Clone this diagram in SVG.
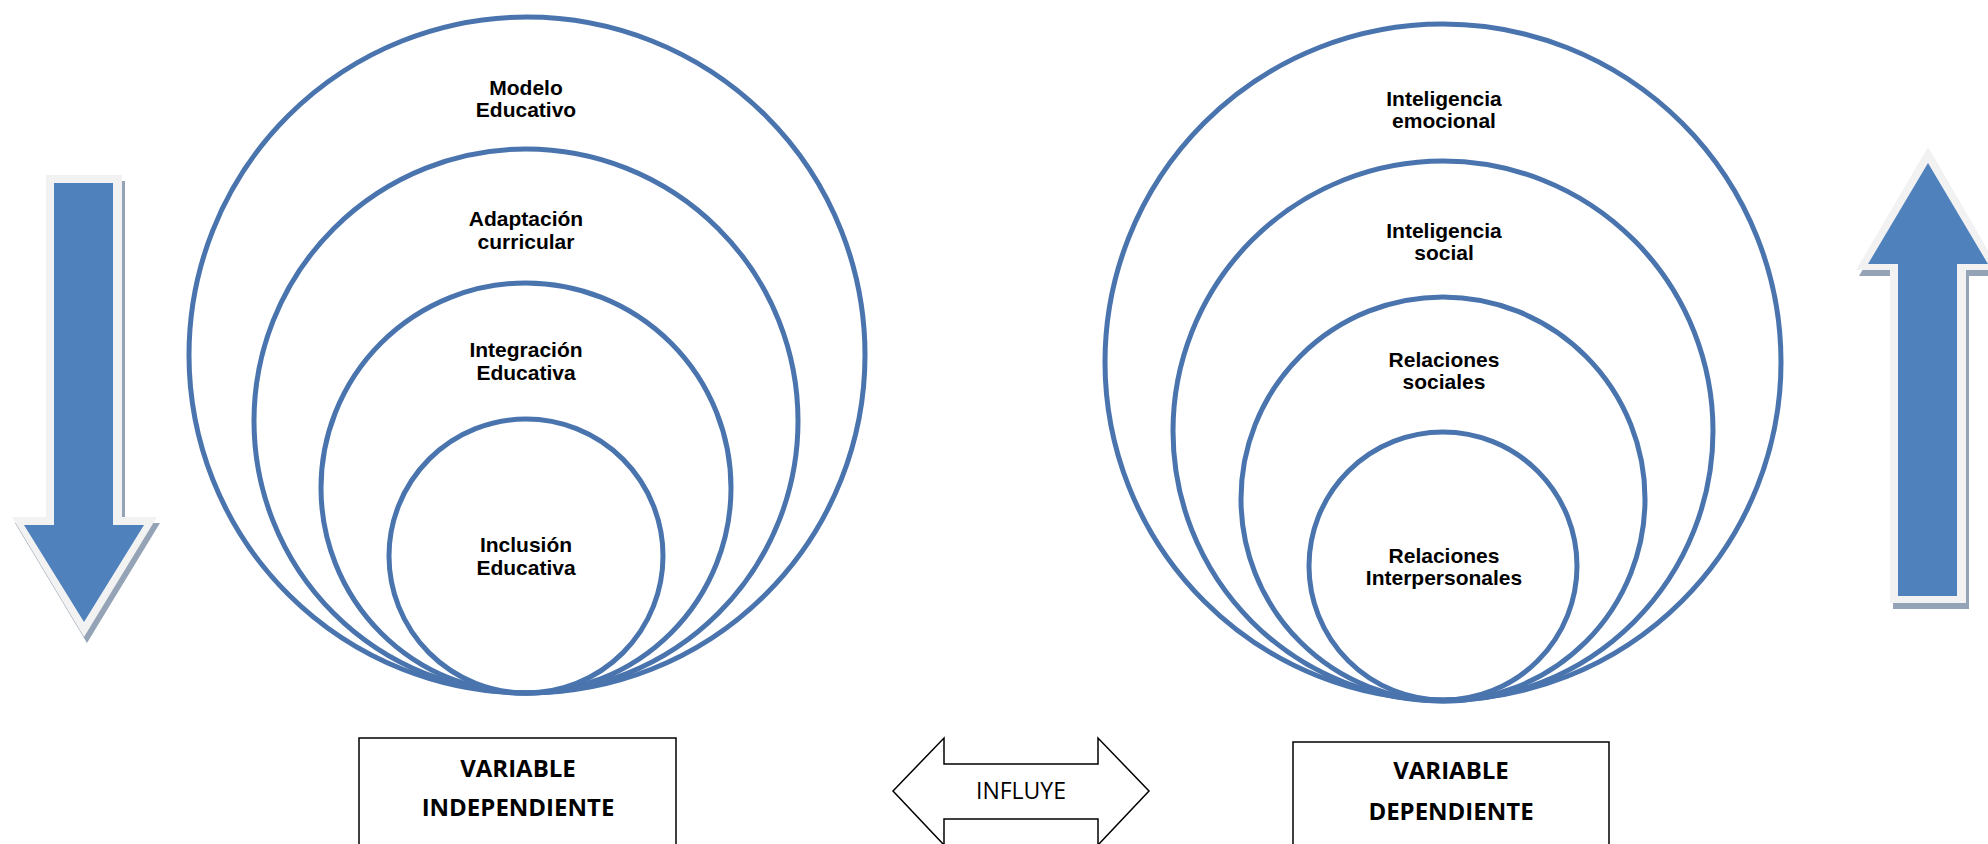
<svg xmlns="http://www.w3.org/2000/svg" width="1988" height="844" viewBox="0 0 1988 844">
<style>
.ring{fill:none;stroke:#4a74ad;stroke-width:5}
.lbl{font-family:"Liberation Sans",Arial,sans-serif;font-weight:bold;font-size:21px;fill:#000;text-anchor:middle}
.box{fill:#fff;stroke:#000;stroke-width:1.5}
.var{font-family:"Open Sans","Liberation Sans",sans-serif;font-weight:bold;font-size:24px;fill:#000;text-anchor:middle}
.inf{font-family:"Open Sans","Liberation Sans",sans-serif;font-size:23px;fill:#000;text-anchor:middle}
.shadow{fill:#95a3b6}
.rim{fill:#f2f2f2}
.blue{fill:#4f81bd}
</style>
<rect width="1988" height="844" fill="#fff"/>
<g id="arrow-down">
<polygon class="shadow" points="49,181 125,181 125,523 160,523 87,643 15,523 49,523"/>
<polygon class="rim" points="46,175 122,175 122,517 157,517 84,637 12,517 46,517"/>
<polygon class="blue" points="54,183 113,183 113,525 144,525 84,622 24,525 54,525"/>
</g>
<g id="arrow-up">
<polygon class="shadow" points="1893,609 1969,609 1969,276 2002,276 1931,153 1859,276 1893,276"/>
<polygon class="rim" points="1890,603 1966,603 1966,270 1999,270 1928,147 1856,270 1890,270"/>
<polygon class="blue" points="1898,596 1957,596 1957,264 1988,264 1928,163 1868,264 1898,264"/>
</g>
<g id="left-circles">
<g id="modelo-educativo">
<circle class="ring" cx="527" cy="355" r="338"/>
<text class="lbl" x="526" y="95">Modelo</text>
<text class="lbl" x="526" y="117">Educativo</text>
</g>
<g id="adaptacion-curricular">
<circle class="ring" cx="526" cy="421" r="272"/>
<text class="lbl" x="526" y="226">Adaptación</text>
<text class="lbl" x="526" y="249">curricular</text>
</g>
<g id="integracion-educativa">
<circle class="ring" cx="526" cy="488" r="205"/>
<text class="lbl" x="526" y="357">Integración</text>
<text class="lbl" x="526" y="380">Educativa</text>
</g>
<g id="inclusion-educativa">
<circle class="ring" cx="526" cy="556" r="137"/>
<text class="lbl" x="526" y="552">Inclusión</text>
<text class="lbl" x="526" y="575">Educativa</text>
</g>
</g>
<g id="right-circles">
<g id="inteligencia-emocional">
<circle class="ring" cx="1443" cy="362" r="338"/>
<text class="lbl" x="1444" y="106">Inteligencia</text>
<text class="lbl" x="1444" y="128">emocional</text>
</g>
<g id="inteligencia-social">
<circle class="ring" cx="1443" cy="431" r="270"/>
<text class="lbl" x="1444" y="238">Inteligencia</text>
<text class="lbl" x="1444" y="260">social</text>
</g>
<g id="relaciones-sociales">
<circle class="ring" cx="1443" cy="499" r="202"/>
<text class="lbl" x="1444" y="367">Relaciones</text>
<text class="lbl" x="1444" y="389">sociales</text>
</g>
<g id="relaciones-interpersonales">
<circle class="ring" cx="1443" cy="566" r="134"/>
<text class="lbl" x="1444" y="563">Relaciones</text>
<text class="lbl" x="1444" y="585">Interpersonales</text>
</g>
</g>
<g id="variable-independiente">
<rect class="box" x="359" y="738" width="317" height="120"/>
<text class="var" x="518" y="777">VARIABLE</text>
<text class="var" x="518" y="816">INDEPENDIENTE</text>
</g>
<g id="variable-dependiente">
<rect class="box" x="1293" y="742" width="316" height="120"/>
<text class="var" x="1451" y="779">VARIABLE</text>
<text class="var" x="1451" y="820">DEPENDIENTE</text>
</g>
<g id="connectors">
<g id="influye">
<polygon class="box" points="893,791 944,738 944,764 1098,764 1098,738 1149,791 1098,845 1098,819 944,819 944,845"/>
<text class="inf" x="1021" y="799">INFLUYE</text>
</g>
</g>
</svg>
